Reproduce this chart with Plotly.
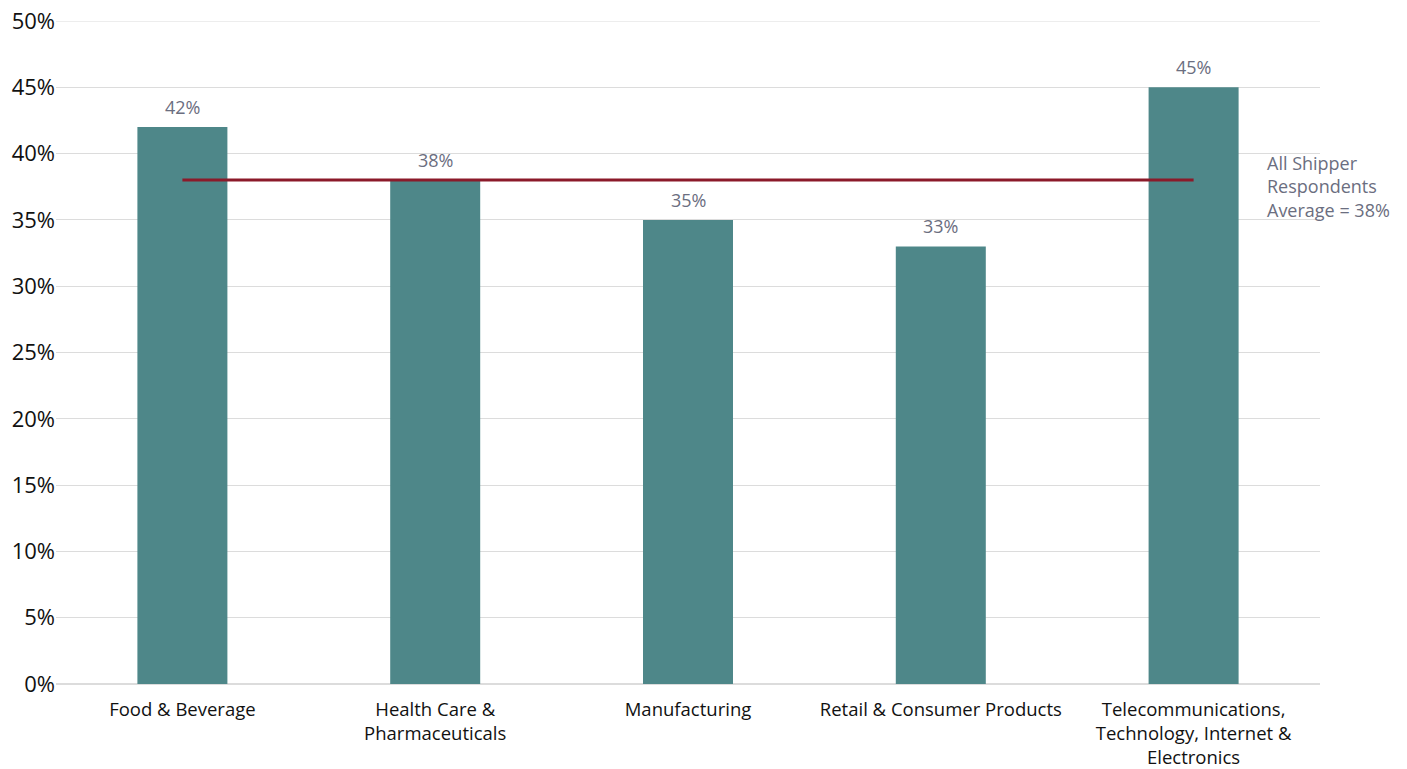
import plotly.graph_objects as go

categories = ["Food & Beverage", "Health Care &<br>Pharmaceuticals", "Manufacturing",
              "Retail & Consumer Products", "Telecommunications,<br>Technology, Internet &<br>Electronics"]
values = [0.42, 0.38, 0.35, 0.33, 0.45]
average = 0.38
avg_label = "All Shipper<br>Respondents<br>Average = 38%"
y_ticks = [0, 0.05, 0.10, 0.15, 0.20, 0.25, 0.30, 0.35, 0.40, 0.45, 0.50]

FONT = "Open Sans"
GRID = "#dcdcdc"

fig = go.Figure()
fig.add_trace(go.Bar(
    x=categories, y=values, width=0.356,
    marker=dict(color="#4E8789", line=dict(width=0)),
    showlegend=False,
))
for c, v in zip(categories, values):
    fig.add_annotation(x=c, y=v, text=f"{v:.0%}", showarrow=False,
                       yanchor="bottom", yshift=6,
                       font=dict(family=FONT, size=18, color="#6b6e80"))
fig.add_trace(go.Scatter(
    x=[categories[0], categories[-1]], y=[average, average], mode="lines",
    line=dict(color="#8B1A2A", width=3), showlegend=False, hoverinfo="skip",
))
fig.add_annotation(
    x=0.9565, xref="paper", y=average, yref="y", yshift=-6,
    text=avg_label, showarrow=False, xanchor="left", yanchor="middle", align="left",
    font=dict(family=FONT, size=18, color="#6b6e80"),
)
# top gridline (plotly omits the gridline lying on the plot edge)
fig.add_shape(type="line", xref="paper", x0=0, x1=1, yref="y", y0=y_ticks[-1], y1=y_ticks[-1],
              line=dict(color=GRID, width=1), layer="below")
fig.update_layout(
    width=1407, height=769,
    margin=dict(l=56, r=87, t=21, b=85),
    plot_bgcolor="white", paper_bgcolor="white",
    font=dict(family=FONT, color="#111111"),
    bargap=0.644,
)
fig.update_xaxes(tickfont=dict(family=FONT, size=18.5, color="#111111"), showgrid=False,
                 showline=False, ticks="", automargin=False, ticklabelstandoff=12)
fig.update_yaxes(range=[0, 0.5], tickvals=y_ticks, tickformat=".0%",
                 tickfont=dict(family=FONT, size=22, color="#111111"),
                 showgrid=True, gridcolor=GRID, gridwidth=1, automargin=False,
                 zeroline=True, zerolinecolor=GRID, zerolinewidth=2, ticks="")
fig.write_html("out.html", config={"displayModeBar": False},
               post_script="document.body.style.margin='0';document.body.style.overflow='hidden';")
